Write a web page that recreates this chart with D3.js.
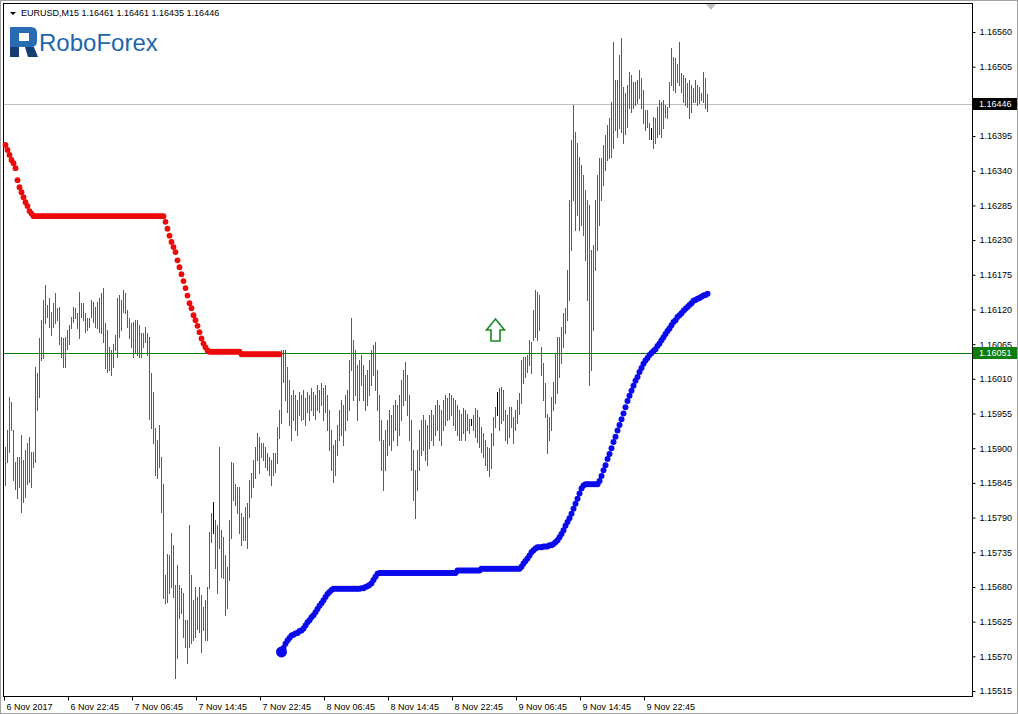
<!DOCTYPE html>
<html lang="en">
<head>
    <meta charset="UTF-8">
    <title>EURUSD,M15</title>
    <script type="application/javascript" src="https://cdnjs.cloudflare.com/ajax/libs/d3/7.8.5/d3.min.js"></script>
    <style type="text/css">
        body { margin: 0; background: #fff; }
        svg text { font-family: "Liberation Sans", Arial, sans-serif; }
    </style>
</head>
<body>
<svg id="chart" width="1018" height="714"></svg>
<script type="application/javascript">
    var symbolName = 'EURUSD,M15';
    var lastOhlc = [1.16461, 1.16461, 1.16435, 1.16446];
    var bidPrice = 1.16446;
    var levelPrice = 1.16051;

    // x axis: bar index of each label (M15 bars, first bar 6 Nov 14:45)
    var timeLabelBars = [0, 32, 64, 96, 128, 160, 192, 224, 256, 288, 320];
    var timeLabels = ['6 Nov 2017', '6 Nov 22:45', '7 Nov 06:45', '7 Nov 14:45', '7 Nov 22:45',
        '8 Nov 06:45', '8 Nov 14:45', '8 Nov 22:45', '9 Nov 06:45', '9 Nov 14:45', '9 Nov 22:45'];

    // 1.16450 sits under the bid label, so it is not listed
    var priceTicks = [1.16560, 1.16505, 1.16395, 1.16340, 1.16285, 1.16230, 1.16175, 1.16120, 1.16065,
        1.16010, 1.15955, 1.15900, 1.15845, 1.15790, 1.15735, 1.15680, 1.15625, 1.15570, 1.15515];

    var barHigh = [
        1.15902, 1.15929, 1.15981, 1.15973, 1.15929, 1.15878, 1.15886, 1.15886, 1.15921, 1.15881,
        1.15897, 1.15908, 1.15918, 1.15894, 1.15894, 1.16029, 1.16019, 1.16074, 1.16103, 1.16135,
        1.16159, 1.16127, 1.16138, 1.16116, 1.16130, 1.16146, 1.16122, 1.16124, 1.16076, 1.16074,
        1.16076, 1.16087, 1.16095, 1.16108, 1.16124, 1.16122, 1.16114, 1.16148, 1.16130, 1.16130,
        1.16114, 1.16106, 1.16106, 1.16135, 1.16132, 1.16124, 1.16132, 1.16138, 1.16146, 1.16154,
        1.16098, 1.16087, 1.16060, 1.16055, 1.16066, 1.16079, 1.16138, 1.16143, 1.16135, 1.16151,
        1.16146, 1.16119, 1.16106, 1.16098, 1.16100, 1.16103, 1.16103, 1.16095, 1.16082, 1.16082,
        1.16092, 1.16082, 1.16076, 1.16019, 1.15989, 1.15932, 1.15913, 1.15937, 1.15886, 1.15844,
        1.15699, 1.15733, 1.15730, 1.15765, 1.15746, 1.15683, 1.15715, 1.15683, 1.15678, 1.15670,
        1.15627, 1.15627, 1.15778, 1.15699, 1.15659, 1.15680, 1.15664, 1.15680, 1.15667, 1.15648,
        1.15659, 1.15680, 1.15767, 1.15797, 1.15815, 1.15786, 1.15778, 1.15902, 1.15770, 1.15759,
        1.15730, 1.15712, 1.15786, 1.15878, 1.15876, 1.15844, 1.15838, 1.15838, 1.15797, 1.15791,
        1.15807, 1.15813, 1.15849, 1.15860, 1.15881, 1.15902, 1.15924, 1.15918, 1.15908, 1.15908,
        1.15902, 1.15892, 1.15886, 1.15881, 1.15892, 1.15892, 1.15934, 1.15960, 1.16055, 1.16055,
        1.16055, 1.16029, 1.16008, 1.15984, 1.15992, 1.15984, 1.15976, 1.15989, 1.15984, 1.15992,
        1.15979, 1.15989, 1.15984, 1.15995, 1.15989, 1.15984, 1.16000, 1.15992, 1.16003, 1.15995,
        1.16000, 1.15984, 1.15960, 1.15929, 1.15905, 1.15913, 1.15937, 1.15960, 1.15976, 1.15968,
        1.15984, 1.15992, 1.16040, 1.16106, 1.16071, 1.16055, 1.16032, 1.16040, 1.16048, 1.16032,
        1.16016, 1.16024, 1.16040, 1.16055, 1.16063, 1.16068, 1.16024, 1.15984, 1.15944, 1.15913,
        1.15929, 1.15944, 1.15960, 1.15952, 1.15968, 1.15976, 1.15968, 1.15984, 1.16008, 1.16024,
        1.16037, 1.16016, 1.15984, 1.15944, 1.15897, 1.15865, 1.15897, 1.15929, 1.15944, 1.15952,
        1.15944, 1.15937, 1.15952, 1.15960, 1.15952, 1.15968, 1.15976, 1.15968, 1.15960, 1.15976,
        1.15984, 1.15979, 1.15987, 1.15984, 1.15979, 1.15976, 1.15968, 1.15960, 1.15955, 1.15963,
        1.15960, 1.15955, 1.15947, 1.15947, 1.15952, 1.15963, 1.15960, 1.15949, 1.15934, 1.15924,
        1.15913, 1.15902, 1.15900, 1.15924, 1.15949, 1.15965, 1.15989, 1.15995, 1.15997, 1.15992,
        1.15960, 1.15952, 1.15965, 1.15965, 1.15949, 1.15960, 1.15976, 1.15987, 1.16040, 1.16045,
        1.16045, 1.16048, 1.16071, 1.16068, 1.16119, 1.16151, 1.16148, 1.16143, 1.16060, 1.16035,
        1.16003, 1.15955, 1.15949, 1.15981, 1.16005, 1.16051, 1.16076, 1.16076, 1.16092, 1.16114,
        1.16122, 1.16182, 1.16293, 1.16388, 1.16444, 1.16401, 1.16384, 1.16362, 1.16349, 1.16333,
        1.16309, 1.16293, 1.16285, 1.16214, 1.16222, 1.16293, 1.16333, 1.16360, 1.16360, 1.16381,
        1.16396, 1.16412, 1.16423, 1.16449, 1.16544, 1.16484, 1.16484, 1.16523, 1.16550, 1.16473,
        1.16463, 1.16476, 1.16497, 1.16492, 1.16481, 1.16481, 1.16484, 1.16499, 1.16487, 1.16468,
        1.16436, 1.16436, 1.16415, 1.16407, 1.16425, 1.16423, 1.16441, 1.16452, 1.16449, 1.16452,
        1.16444, 1.16441, 1.16481, 1.16534, 1.16520, 1.16518, 1.16510, 1.16544, 1.16495, 1.16492,
        1.16487, 1.16479, 1.16484, 1.16476, 1.16471, 1.16484, 1.16476, 1.16473, 1.16463, 1.16497,
        1.16487, 1.16461
    ];

    var barLow = [
        1.15841, 1.15878, 1.15894, 1.15929, 1.15849, 1.15836, 1.15821, 1.15838, 1.15799, 1.15815,
        1.15823, 1.15844, 1.15846, 1.15838, 1.15870, 1.15878, 1.15960, 1.15981, 1.16040, 1.16043,
        1.16098, 1.16108, 1.16092, 1.16079, 1.16092, 1.16098, 1.16103, 1.16066, 1.16045, 1.16029,
        1.16029, 1.16058, 1.16066, 1.16090, 1.16100, 1.16106, 1.16090, 1.16074, 1.16108, 1.16103,
        1.16084, 1.16087, 1.16092, 1.16108, 1.16100, 1.16092, 1.16090, 1.16084, 1.16082, 1.16068,
        1.16027, 1.16021, 1.16024, 1.16016, 1.16029, 1.16055, 1.16045, 1.16076, 1.16087, 1.16116,
        1.16114, 1.16092, 1.16074, 1.16060, 1.16045, 1.16053, 1.16048, 1.16045, 1.16045, 1.16060,
        1.16068, 1.16048, 1.15947, 1.15932, 1.15908, 1.15857, 1.15852, 1.15870, 1.15799, 1.15662,
        1.15654, 1.15656, 1.15670, 1.15680, 1.15664, 1.15535, 1.15567, 1.15630, 1.15638, 1.15601,
        1.15585, 1.15559, 1.15585, 1.15591, 1.15596, 1.15601, 1.15614, 1.15609, 1.15577, 1.15611,
        1.15596, 1.15596, 1.15678, 1.15751, 1.15765, 1.15710, 1.15670, 1.15741, 1.15696, 1.15694,
        1.15635, 1.15646, 1.15691, 1.15757, 1.15818, 1.15810, 1.15797, 1.15765, 1.15746, 1.15754,
        1.15754, 1.15741, 1.15791, 1.15823, 1.15838, 1.15852, 1.15881, 1.15860, 1.15886, 1.15881,
        1.15870, 1.15865, 1.15857, 1.15841, 1.15857, 1.15862, 1.15876, 1.15916, 1.15940, 1.16005,
        1.15976, 1.15957, 1.15937, 1.15913, 1.15944, 1.15929, 1.15921, 1.15952, 1.15944, 1.15947,
        1.15937, 1.15957, 1.15944, 1.15960, 1.15952, 1.15947, 1.15960, 1.15957, 1.15968, 1.15944,
        1.15957, 1.15929, 1.15897, 1.15865, 1.15846, 1.15857, 1.15889, 1.15913, 1.15921, 1.15905,
        1.15929, 1.15944, 1.15960, 1.16024, 1.15976, 1.15984, 1.15944, 1.15976, 1.16000, 1.15976,
        1.15960, 1.15968, 1.15984, 1.16000, 1.16016, 1.15992, 1.15960, 1.15913, 1.15865, 1.15833,
        1.15865, 1.15889, 1.15905, 1.15897, 1.15913, 1.15929, 1.15905, 1.15921, 1.15944, 1.15968,
        1.15976, 1.15952, 1.15913, 1.15865, 1.15818, 1.15789, 1.15833, 1.15865, 1.15889, 1.15897,
        1.15881, 1.15873, 1.15900, 1.15913, 1.15905, 1.15921, 1.15929, 1.15913, 1.15905, 1.15929,
        1.15937, 1.15944, 1.15947, 1.15952, 1.15937, 1.15929, 1.15921, 1.15913, 1.15913, 1.15924,
        1.15913, 1.15929, 1.15924, 1.15937, 1.15929, 1.15918, 1.15910, 1.15902, 1.15894, 1.15886,
        1.15873, 1.15865, 1.15856, 1.15868, 1.15905, 1.15934, 1.15952, 1.15929, 1.15940, 1.15944,
        1.15913, 1.15908, 1.15918, 1.15934, 1.15908, 1.15929, 1.15940, 1.15955, 1.15971, 1.16003,
        1.16013, 1.16021, 1.16032, 1.16019, 1.16071, 1.16076, 1.16071, 1.16087, 1.16016, 1.15976,
        1.15949, 1.15892, 1.15913, 1.15929, 1.15960, 1.15971, 1.15987, 1.16013, 1.16035, 1.16060,
        1.16082, 1.16103, 1.16135, 1.16214, 1.16293, 1.16246, 1.16270, 1.16246, 1.16254, 1.16238,
        1.16198, 1.16135, 1.16000, 1.16024, 1.16087, 1.16182, 1.16214, 1.16254, 1.16293, 1.16317,
        1.16341, 1.16357, 1.16360, 1.16362, 1.16376, 1.16404, 1.16393, 1.16407, 1.16401, 1.16384,
        1.16399, 1.16409, 1.16439, 1.16433, 1.16439, 1.16444, 1.16447, 1.16455, 1.16439, 1.16415,
        1.16404, 1.16409, 1.16391, 1.16391, 1.16376, 1.16384, 1.16393, 1.16399, 1.16393, 1.16407,
        1.16425, 1.16423, 1.16441, 1.16476, 1.16468, 1.16465, 1.16481, 1.16476, 1.16465, 1.16449,
        1.16444, 1.16441, 1.16423, 1.16433, 1.16449, 1.16449, 1.16444, 1.16447, 1.16452, 1.16449,
        1.16439, 1.16435
    ];

    // u = bull bar, d = bear bar, n = unchanged
    var barDir = (
        'u d u d d d d u u d ' +
        'u u d u u u u u d u ' +
        'u d d d u d d d d u ' +
        'u u u u d d u u d d ' +
        'u d u u d d u d d d ' +
        'd d d u u u u d d u ' +
        'd d d u d u d u d u ' +
        'd d d d d d d u d d ' +
        'd u d u d d u d d d ' +
        'd d u d d u d u d u ' +
        'u u u u n d u u d d ' +
        'd u u u d d d d d u ' +
        'u u u u u u u d d d ' +
        'd u d u u u u u u d ' +
        'd d d d u d u u d u ' +
        'd u d u d u u d u d ' +
        'u d d d d u u u u d ' +
        'u u u u d d d u u d ' +
        'd u u u d d d d d d ' +
        'u u u d u u d u u u ' +
        'd d d d d d u u u d ' +
        'd u u u d u u d d u ' +
        'u d u d d d d d d u ' +
        'd u d n u u d d d d ' +
        'd d d u u u n u d u ' +
        'd d u u d u u u u u ' +
        'd u u d u u d d d d ' +
        'd d u u u u u u u u ' +
        'u u u u u d d d d d ' +
        'd d d u u u u d d u ' +
        'u u u u u d d u d d ' +
        'd u u d d u u u d d ' +
        'd d d n d u u d u u ' +
        'd u u u d d d d d d ' +
        'd d u d u u d u d d ' +
        'd d').trim().split(/\s+/);

    // trailing stop above price (red), from bar 0
    var stopRed = [
        1.16381, 1.16373, 1.16365, 1.16357, 1.16352, 1.16344, 1.16325, 1.16314, 1.16306, 1.16298,
        1.16290, 1.16284, 1.16276, 1.16272, 1.16268, 1.16268, 1.16268, 1.16268, 1.16268, 1.16268,
        1.16268, 1.16268, 1.16268, 1.16268, 1.16268, 1.16268, 1.16268, 1.16268, 1.16268, 1.16268,
        1.16268, 1.16268, 1.16268, 1.16268, 1.16268, 1.16268, 1.16268, 1.16268, 1.16268, 1.16268,
        1.16268, 1.16268, 1.16268, 1.16268, 1.16268, 1.16268, 1.16268, 1.16268, 1.16268, 1.16268,
        1.16268, 1.16268, 1.16268, 1.16268, 1.16268, 1.16268, 1.16268, 1.16268, 1.16268, 1.16268,
        1.16268, 1.16268, 1.16268, 1.16268, 1.16268, 1.16268, 1.16268, 1.16268, 1.16268, 1.16268,
        1.16268, 1.16268, 1.16268, 1.16268, 1.16268, 1.16268, 1.16268, 1.16268, 1.16268, 1.16268,
        1.16259, 1.16248, 1.16237, 1.16227, 1.16219, 1.16211, 1.16198, 1.16187, 1.16176, 1.16165,
        1.16154, 1.16142, 1.16130, 1.16122, 1.16111, 1.16103, 1.16094, 1.16084, 1.16074, 1.16066,
        1.16060, 1.16055, 1.16053, 1.16053, 1.16053, 1.16053, 1.16053, 1.16053, 1.16053, 1.16053,
        1.16053, 1.16053, 1.16053, 1.16053, 1.16053, 1.16053, 1.16053, 1.16053, 1.16049, 1.16049,
        1.16049, 1.16049, 1.16049, 1.16049, 1.16049, 1.16049, 1.16049, 1.16049, 1.16049, 1.16049,
        1.16049, 1.16049, 1.16049, 1.16049, 1.16049, 1.16049, 1.16049, 1.16049
    ];

    // trailing stop below price (blue), from bar 138
    var blueStart = 138;
    var stopBlue = [
        1.15577, 1.15583,
        1.15590, 1.15595, 1.15599, 1.15603, 1.15604, 1.15606, 1.15607, 1.15610, 1.15611, 1.15614,
        1.15619, 1.15624, 1.15627, 1.15632, 1.15635, 1.15640, 1.15645, 1.15650, 1.15654, 1.15659,
        1.15664, 1.15669, 1.15672, 1.15675, 1.15677, 1.15677, 1.15677, 1.15677, 1.15677, 1.15677,
        1.15677, 1.15677, 1.15677, 1.15677, 1.15677, 1.15677, 1.15677, 1.15677, 1.15678, 1.15678,
        1.15680, 1.15681, 1.15683, 1.15686, 1.15691, 1.15696, 1.15701, 1.15702, 1.15702, 1.15702,
        1.15702, 1.15702, 1.15702, 1.15702, 1.15702, 1.15702, 1.15702, 1.15702, 1.15702, 1.15702,
        1.15702, 1.15702, 1.15702, 1.15702, 1.15702, 1.15702, 1.15702, 1.15702, 1.15702, 1.15702,
        1.15702, 1.15702, 1.15702, 1.15702, 1.15702, 1.15702, 1.15702, 1.15702, 1.15702, 1.15702,
        1.15702, 1.15702, 1.15702, 1.15702, 1.15702, 1.15702, 1.15706, 1.15706, 1.15706, 1.15706,
        1.15706, 1.15706, 1.15706, 1.15706, 1.15706, 1.15706, 1.15706, 1.15706, 1.15709, 1.15709,
        1.15709, 1.15709, 1.15709, 1.15709, 1.15709, 1.15709, 1.15709, 1.15709, 1.15709, 1.15709,
        1.15709, 1.15709, 1.15709, 1.15709, 1.15709, 1.15709, 1.15709, 1.15709, 1.15712, 1.15717,
        1.15721, 1.15725, 1.15730, 1.15735, 1.15738, 1.15741, 1.15743, 1.15743, 1.15743, 1.15744,
        1.15744, 1.15744, 1.15746, 1.15746, 1.15748, 1.15751, 1.15754, 1.15759, 1.15764, 1.15770,
        1.15777, 1.15783, 1.15789, 1.15796, 1.15804, 1.15812, 1.15820, 1.15828, 1.15836, 1.15841,
        1.15843, 1.15843, 1.15843, 1.15843, 1.15843, 1.15843, 1.15843, 1.15848, 1.15856, 1.15865,
        1.15873, 1.15883, 1.15891, 1.15900, 1.15910, 1.15918, 1.15928, 1.15937, 1.15946, 1.15955,
        1.15965, 1.15975, 1.15983, 1.15991, 1.15999, 1.16007, 1.16013, 1.16021, 1.16027, 1.16034,
        1.16039, 1.16043, 1.16048, 1.16051, 1.16054, 1.16057, 1.16062, 1.16066, 1.16071, 1.16076,
        1.16081, 1.16086, 1.16090, 1.16095, 1.16100, 1.16103, 1.16108, 1.16111, 1.16114, 1.16118,
        1.16121, 1.16124, 1.16127, 1.16130, 1.16134, 1.16135, 1.16137, 1.16138, 1.16140, 1.16142,
        1.16143, 1.16145
    ];

    // buy arrow object: bar index and price of its tip
    var arrowBar = 245;
    var arrowPrice = 1.16105;

    function makeChart() {
        var svg = d3.select('#chart');
        var plot = {left: 3, top: 3, right: 972, bottom: 696};
        var upColor = '#069606';
        var downColor = '#ea1c24';

        var x = d3.scaleLinear()
                .domain([0, 483])
                .range([5, 971]);

        var y = d3.scaleLinear()
                .domain([1.15515, 1.16560])
                .range([691, 32]);

        var bars = barHigh.map(function (h, i) {
            return {i: i, high: h, low: barLow[i], dir: barDir[i]};
        });

        function barColor(dir) {
            if (dir === 'n') { return '#000000'; }
            return dir === 'u' ? upColor : downColor;
        }

        // outer frame
        svg.append('rect')
                .attr('x', 0.5).attr('y', 0.5)
                .attr('width', 1017).attr('height', 713)
                .attr('fill', '#fff').attr('stroke', '#a0a0a0');

        svg.append('rect')
                .attr('x', plot.left + 0.5).attr('y', plot.top + 0.5)
                .attr('width', plot.right - plot.left).attr('height', plot.bottom - plot.top)
                .attr('fill', '#fff').attr('stroke', '#000');

        var vis = svg.append('g');

        // bid line
        vis.append('line')
                .attr('x1', plot.left + 1).attr('x2', plot.right)
                .attr('y1', Math.round(y(bidPrice)) + 0.5).attr('y2', Math.round(y(bidPrice)) + 0.5)
                .attr('stroke', '#c0c0c0');

        vis.selectAll('.bar')
                .data(bars)
                .enter()
                .append('line')
                .attr('class', 'bar')
                .attr('x1', function (d) { return Math.round(x(d.i)) + 0.5; })
                .attr('x2', function (d) { return Math.round(x(d.i)) + 0.5; })
                .attr('y1', function (d) { return Math.round(y(d.high)); })
                .attr('y2', function (d) { return Math.round(y(d.low)) + 1; })
                .attr('stroke', function (d) { return barColor(d.dir); })
                .attr('stroke-width', 1)
                .attr('shape-rendering', 'crispEdges');

        // horizontal level
        vis.append('line')
                .attr('x1', plot.left + 1).attr('x2', plot.right)
                .attr('y1', Math.round(y(levelPrice)) + 0.5).attr('y2', Math.round(y(levelPrice)) + 0.5)
                .attr('stroke', '#0a7d0a');

        vis.selectAll('.stop-red')
                .data(stopRed)
                .enter()
                .append('circle')
                .attr('class', 'stop-red')
                .attr('cx', function (d, i) { return x(i) + 0.5; })
                .attr('cy', function (d) { return y(d); })
                .attr('r', 2.9)
                .attr('fill', '#ec0a0a');

        vis.selectAll('.stop-blue')
                .data(stopBlue)
                .enter()
                .append('circle')
                .attr('class', 'stop-blue')
                .attr('cx', function (d, i) { return x(i + blueStart) + 0.5; })
                .attr('cy', function (d) { return y(d); })
                .attr('r', function (d, i) { return i === 0 ? 5.5 : 3; })
                .attr('fill', '#0a0aee');

        // buy arrow
        vis.append('path')
                .attr('transform', 'translate(' + (x(arrowBar) + 0.5) + ',' + y(arrowPrice) + ')')
                .attr('d', 'M0,0 L9,11 L4.5,11 L4.5,22 L-4.5,22 L-4.5,11 L-9,11 Z')
                .attr('fill', '#fff')
                .attr('stroke', '#1d8a1d')
                .attr('stroke-width', 1.6);

        // chart shift marker
        svg.append('path')
                .attr('transform', 'translate(' + (x(barHigh.length - 1) + 4) + ',' + (plot.top + 1) + ')')
                .attr('d', 'M-5,0 L5,0 L0,6 Z')
                .attr('fill', '#c0c0c0');

        // axes
        var yAxis = svg.append('g')
                .attr('transform', 'translate(' + (plot.right + 0.5) + ',0)')
                .call(d3.axisRight(y)
                        .tickValues(priceTicks)
                        .tickSize(3)
                        .tickPadding(4)
                        .tickFormat(d3.format('.5f')));
        yAxis.select('.domain').remove();
        yAxis.attr('font-size', 9).attr('font-family', '"Liberation Sans", Arial, sans-serif');

        var xAxis = svg.append('g')
                .attr('transform', 'translate(0,' + (plot.bottom + 0.5) + ')')
                .call(d3.axisBottom(x)
                        .tickValues(timeLabelBars)
                        .tickSize(4)
                        .tickPadding(3)
                        .tickFormat(function (d, i) { return timeLabels[i]; }));
        xAxis.select('.domain').remove();
        xAxis.attr('font-size', 9).attr('font-family', '"Liberation Sans", Arial, sans-serif');
        xAxis.selectAll('.tick line').attr('transform', 'translate(-1,0)');
        xAxis.selectAll('.tick text').attr('text-anchor', 'start').attr('dx', 1);

        // price labels on the scale
        [{p: bidPrice, c: '#000'}, {p: levelPrice, c: '#0a7d0a'}].forEach(function (m) {
            var py = Math.round(y(m.p));
            svg.append('rect')
                    .attr('x', plot.right + 1).attr('y', py - 6)
                    .attr('width', 44).attr('height', 12)
                    .attr('fill', m.c);
            svg.append('text')
                    .attr('x', plot.right + 7).attr('y', py)
                    .attr('dy', '0.35em')
                    .attr('font-size', 9)
                    .attr('fill', '#fff')
                    .text(d3.format('.5f')(m.p));
        });

        // header
        svg.append('path')
                .attr('d', 'M10,12 L16,12 L13,15 Z')
                .attr('fill', '#000');
        svg.append('text')
                .attr('x', 21).attr('y', 16)
                .attr('font-size', 9)
                .attr('fill', '#000')
                .text(symbolName + '  ' + lastOhlc.map(d3.format('.5f')).join(' '));

        // logo
        var logo = svg.append('g').attr('transform', 'translate(10,27)');
        logo.append('path')
                .attr('d', 'M0,0 L21,0 Q27,0 27,6 L27,14 Q27,20 21,20 L9,20 L9,14 L19,14 L19,6 L9,6 L9,20 L0,20 Z')
                .attr('fill', '#2a6cb3');
        logo.append('path')
                .attr('d', 'M0,20 L9,20 L9,30 L0,30 Z M15,20 L24,20 L28,30 L18,30 Z')
                .attr('fill', '#173d72');
        svg.append('text')
                .attr('x', 39).attr('y', 51)
                .attr('font-size', 24)
                .attr('fill', '#2166ad')
                .text('RoboForex');
    }

    makeChart();
</script>
</body>
</html>
